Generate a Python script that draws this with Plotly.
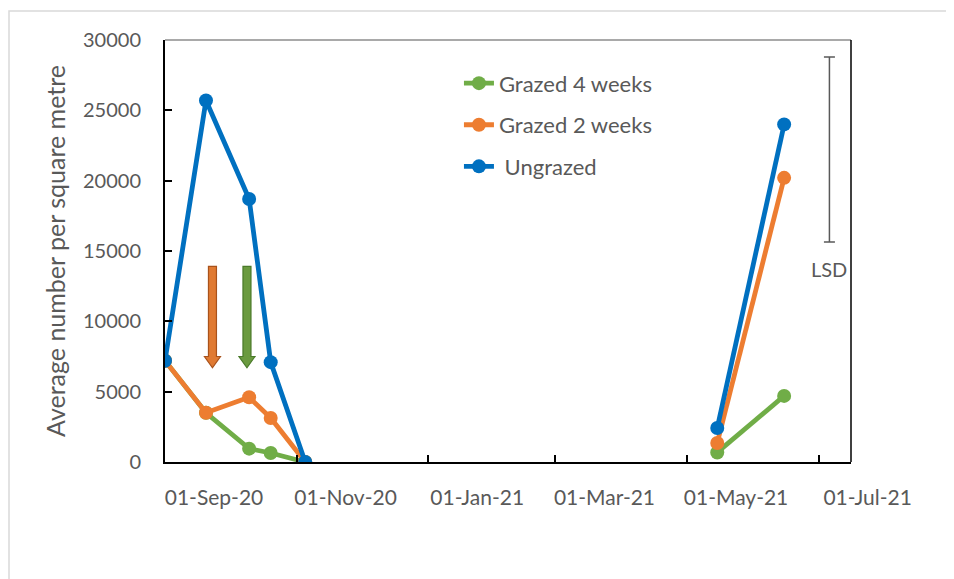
import plotly.graph_objects as go

# ---- data ----
autumn_dates = ["2020-09-01", "2020-09-20", "2020-10-10", "2020-10-20", "2020-11-05"]
spring_dates = ["2021-05-15", "2021-06-15"]

grazed4_autumn = [7200, 3500, 950, 640, 0]
grazed4_spring = [680, 4700]
grazed2_autumn = [7200, 3500, 4600, 3130, 0]
grazed2_spring = [1350, 20200]
ungrazed_autumn = [7200, 25700, 18700, 7100, 0]
ungrazed_spring = [2420, 24000]

series_names = ["Grazed 4 weeks", "Grazed 2 weeks", " Ungrazed"]
series_colors = ["#70ad47", "#ed7d31", "#0070c0"]

tick_dates = ["2020-09-01", "2020-11-01", "2021-01-01", "2021-03-01", "2021-05-01", "2021-07-01"]
tick_labels = ["01-Sep-20", "01-Nov-20", "01-Jan-21", "01-Mar-21", "01-May-21", "01-Jul-21"]
x_range = ["2020-09-01", "2021-07-16"]
y_range = [0, 30000]

# LSD bar
lsd_date = "2021-07-06"
lsd_top = 28800
lsd_value = 13160
lsd_label_y = 13700

# grazing arrows
arrow_dates = ["2020-09-23", "2020-10-09"]
arrow_fill = ["#e07a32", "#6a9a3f"]
arrow_line = ["#a9521b", "#4a7a2a"]
arrow_top = 13900
arrow_head_base = 7500
arrow_tip = 6700

FONT = "Lato"
GREY = "#595959"

# figure geometry (page adds an 8px body margin)
ML, MR, MT, MB = 157, 111, 32, 125
PW, PH = 954 - ML - MR, 579 - MT - MB

fig = go.Figure()

data = [
    (grazed4_autumn, grazed4_spring),
    (grazed2_autumn, grazed2_spring),
    (ungrazed_autumn, ungrazed_spring),
]
for (aut, spr), name, col in zip(data, series_names, series_colors):
    for i, (xs, ys) in enumerate(((autumn_dates, aut), (spring_dates, spr))):
        fig.add_trace(go.Scatter(
            x=xs, y=ys, mode="lines+markers", name=name,
            legendgroup=name, showlegend=(i == 0),
            line=dict(color=col, width=4.8),
            marker=dict(color=col, size=14),
        ))

fig.add_trace(go.Scatter(
    x=[lsd_date], y=[lsd_top - lsd_value / 2], mode="markers",
    marker=dict(size=1, color="rgba(0,0,0,0)"), showlegend=False,
    error_y=dict(type="data", array=[lsd_value / 2], color=GREY, thickness=1.5, width=5.5),
    hoverinfo="skip",
))
fig.add_annotation(x=lsd_date, y=lsd_label_y, text="LSD", showarrow=False,
                   font=dict(family=FONT, size=20, color=GREY), xanchor="center", yanchor="middle")

for d, fc, lc in zip(arrow_dates, arrow_fill, arrow_line):
    path = (f"M -4,{arrow_top} L 4,{arrow_top} L 4,{arrow_head_base} L 8,{arrow_head_base} "
            f"L 0,{arrow_tip} L -8,{arrow_head_base} L -4,{arrow_head_base} Z")
    fig.add_shape(type="path", xref="x", yref="y", xsizemode="pixel", xanchor=d,
                  path=path, fillcolor=fc, line=dict(color=lc, width=1.2))

# plot-area frame: grey top, black right
fig.add_shape(type="line", xref="paper", yref="paper", x0=0, x1=1, y0=1, y1=1,
              line=dict(color="#8c8c8c", width=1.5))
fig.add_shape(type="line", xref="paper", yref="paper", x0=1, x1=1, y0=0, y1=1,
              line=dict(color="#000000", width=1.5))
# outer chart border
fig.add_shape(type="rect", xref="paper", yref="paper",
              x0=(1 - ML) / PW, x1=1.3, y0=-1, y1=(PH + MT - 3) / PH,
              line=dict(color="#d9d9d9", width=1.5), layer="below")

fig.update_layout(
    width=954, height=579,
    margin=dict(l=ML, r=MR, t=MT, b=MB),
    paper_bgcolor="white", plot_bgcolor="white",
    font=dict(family=FONT, color=GREY),
    showlegend=True,
    legend=dict(x=0.4285, y=0.947, xanchor="left", yanchor="top",
                font=dict(family=FONT, size=22, color=GREY),
                tracegroupgap=10, bgcolor="rgba(0,0,0,0)"),
    xaxis=dict(type="date", range=x_range, tickvals=tick_dates, ticktext=tick_labels,
               ticks="inside", ticklen=7, tickwidth=1.5, tickcolor="black",
               showline=True, linecolor="black", linewidth=2, showgrid=False, zeroline=False,
               tickfont=dict(family=FONT, size=21, color=GREY),
               ticklabelshift=49, ticklabelstandoff=16),
    yaxis=dict(range=y_range, dtick=5000, tickformat="d",
               ticks="inside", ticklen=7, tickwidth=1.5, tickcolor="black",
               showline=True, linecolor="black", linewidth=2, showgrid=False, zeroline=False,
               tickfont=dict(family=FONT, size=20, color=GREY), ticklabelstandoff=18,
               title=dict(text="Average number per square metre",
                          font=dict(family=FONT, size=25, color=GREY), standoff=10)),
)

fig.write_html("out.html")
